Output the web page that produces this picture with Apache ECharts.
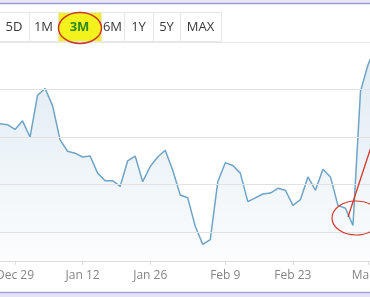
<!DOCTYPE html>
<html lang="en">
  <head>
    <meta charset="UTF-8" />
    <title>3M price chart</title>
    <style>
      html,
      body {
        width: 100%;
        height: 100%;
        overflow: hidden;
        margin: 0;
        background: #fff;
      }
      #main {
        width: 370px;
        height: 297px;
      }
    </style>
  </head>
  <body>
    <div id="main"></div>
    <script src="https://cdn.jsdelivr.net/npm/echarts@6/dist/echarts.min.js"></script>
    <script>
      // trading days shown (screenshot is cropped at both sides)
      const dates = [
        "Dec 24", "Dec 26", "Dec 29", "Dec 30", "Dec 31", "Jan 2", "Jan 5", "Jan 6",
        "Jan 7", "Jan 8", "Jan 9", "Jan 12", "Jan 13", "Jan 14", "Jan 15", "Jan 16",
        "Jan 20", "Jan 21", "Jan 22", "Jan 23", "Jan 26", "Jan 27", "Jan 28", "Jan 29",
        "Jan 30", "Feb 2", "Feb 3", "Feb 4", "Feb 5", "Feb 6", "Feb 9", "Feb 10",
        "Feb 11", "Feb 12", "Feb 13", "Feb 17", "Feb 18", "Feb 19", "Feb 20", "Feb 23",
        "Feb 24", "Feb 25", "Feb 26", "Feb 27", "Mar 2", "Mar 3", "Mar 4", "Mar 5",
        "Mar 6", "Mar 9", "Mar 10",
      ];
      const prices = [
        31.4, 31.3, 30.8, 31.7, 30.0, 34.4, 35.1, 33.3, 29.7, 28.5, 28.3, 27.9, 28.0,
        26.2, 25.4, 25.4, 24.8, 27.5, 28.0, 25.3, 26.9, 27.9, 28.6, 26.5, 23.9, 23.6,
        20.6, 18.7, 19.2, 25.3, 27.3, 27.0, 26.2, 23.2, 23.6, 24.0, 24.1, 24.6, 24.4,
        22.8, 23.4, 25.8, 24.4, 26.6, 25.8, 22.8, 22.5, 20.7, 34.8, 37.6, 39.5,
      ];
      // which categories carry a tick + label
      const labelIdx = [2, 11, 20, 30, 39, 49];
      const gridValues = [20, 25, 30, 35];
      const ranges = ["5D", "1M", "3M", "6M", "1Y", "5Y", "MAX"];
      const rangeEdges = [-1, 29, 58, 101, 124, 153, 180, 221];

      const font = "'Open Sans', 'Noto Sans', sans-serif";
      const graphics = [];

      // range buttons
      ranges.forEach((r, i) => {
        const x0 = rangeEdges[i];
        const x1 = rangeEdges[i + 1];
        graphics.push({
          type: "rect",
          shape: { x: x0 + 0.5, y: 12.5, width: x1 - x0, height: 29 },
          style: { fill: r === "3M" ? "#f4f21c" : "#fff", stroke: "#e6e6e6", lineWidth: 1 },
          z: 10,
        });
        graphics.push({
          type: "text",
          x: (x0 + x1) / 2,
          y: 27,
          style: {
            text: r,
            fill: r === "3M" ? "#2f8a1c" : "#3a3a3a",
            font: (r === "3M" ? "bold " : "") + "13px " + font,
            align: "center",
            verticalAlign: "middle",
          },
          z: 11,
        });
      });

      graphics.push(
        // separator under the buttons
        { type: "line", shape: { x1: 0, y1: 42.5, x2: 370, y2: 42.5 }, style: { stroke: "#e8e8e8", lineWidth: 1 }, z: 9 },
        // page frame lines
        { type: "rect", shape: { x: 0, y: 0, width: 370, height: 3 }, style: { fill: "#e9e8f6" }, z: 9 },
        { type: "line", shape: { x1: 0, y1: 3.5, x2: 370, y2: 3.5 }, style: { stroke: "#9c99d6", lineWidth: 1.5 }, z: 9 },
        { type: "rect", shape: { x: 0, y: 293, width: 370, height: 4 }, style: { fill: "#e4e3f5" }, z: 9 },
        { type: "line", shape: { x1: 0, y1: 292.5, x2: 370, y2: 292.5 }, style: { stroke: "#a3a0dc", lineWidth: 1.5 }, z: 9 },
        // red annotations
        { type: "ellipse", shape: { cx: 80, cy: 28, rx: 21.5, ry: 15.5 }, style: { fill: null, stroke: "#c9372c", lineWidth: 1.5 }, z: 12 },
        { type: "ellipse", shape: { cx: 356, cy: 218, rx: 24, ry: 17 }, style: { fill: null, stroke: "#d2392f", lineWidth: 1.2 }, z: 12 },
        { type: "line", shape: { x1: 348, y1: 217, x2: 371, y2: 147 }, style: { stroke: "#d2392f", lineWidth: 1.3 }, z: 12 }
      );

      const option = {
        backgroundColor: "#fff",
        animation: false,
        grid: { left: 0, right: -5.5, top: 42, bottom: 36, outerBoundsMode: "none", containLabel: false },
        xAxis: {
          type: "category",
          data: dates,
          boundaryGap: false,
          axisLine: { lineStyle: { color: "#dcdcdc" } },
          axisTick: {
            show: true,
            length: 4,
            interval: (i) => labelIdx.includes(i),
            lineStyle: { color: "#dcdcdc" },
          },
          axisLabel: {
            interval: (i) => labelIdx.includes(i),
            color: "#858585",
            fontSize: 12,
            fontFamily: font,
            margin: 9,
          },
          splitLine: { show: false },
        },
        yAxis: {
          type: "value",
          min: 16.95,
          max: 40,
          show: false,
          splitLine: { show: false },
        },
        graphic: graphics,
        series: [
          {
            type: "line",
            data: prices,
            symbol: "none",
            lineStyle: { color: "#6fa4c7", width: 1.5 },
            areaStyle: {
              color: new echarts.graphic.LinearGradient(0, 0, 0, 1, [
                { offset: 0, color: "rgba(111,164,199,0.32)" },
                { offset: 1, color: "rgba(111,164,199,0.04)" },
              ]),
            },
            markLine: {
              silent: true,
              symbol: "none",
              label: { show: false },
              lineStyle: { color: "#e2e2e2", type: "solid", width: 1 },
              data: gridValues.map((v) => ({ yAxis: v })),
            },
          },
        ],
      };

      const myChart = echarts.init(document.getElementById("main"));
      myChart.setOption(option);
    </script>
  </body>
</html>
